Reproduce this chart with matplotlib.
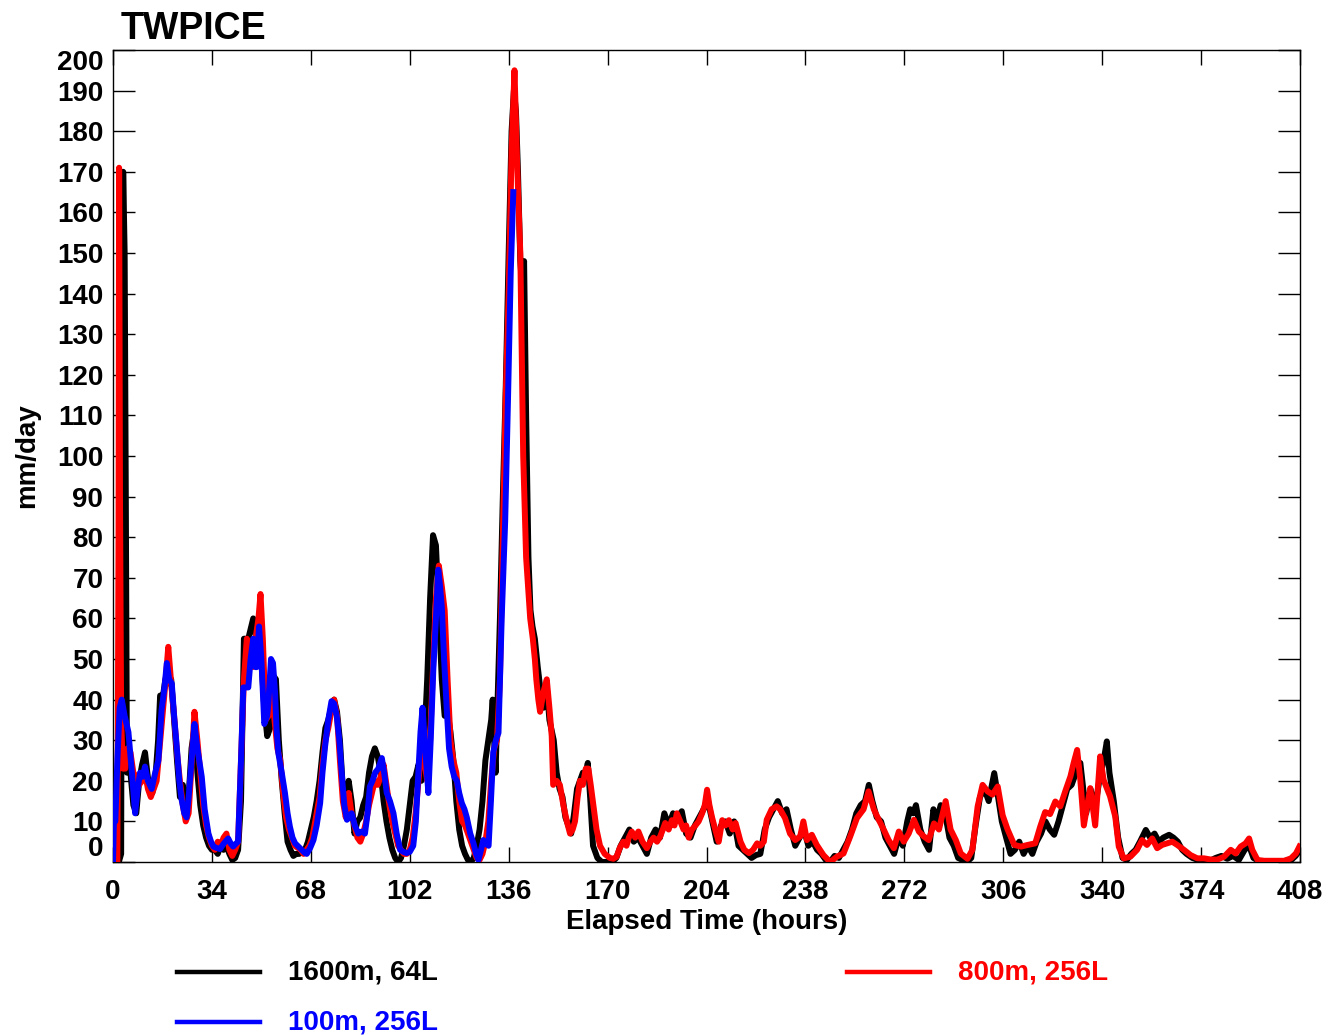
import matplotlib
matplotlib.use("Agg")

import matplotlib.pyplot as plt
import numpy as np
from matplotlib.lines import Line2D

plt.rcParams["font.family"] = ["Liberation Sans", "DejaVu Sans"]
plt.rcParams["font.weight"] = "bold"

# 800m, 256L (red)
t_800 = [0, 1, 1.5, 1.9, 2.1, 2.4, 2.8, 3.4, 4.2, 5, 6, 7, 8, 9, 10, 11, 12, 13, 14, 15,
         16, 17, 18, 19, 20, 21, 22, 23, 24, 25, 26, 27, 28, 29, 30, 31, 32, 33, 34, 35,
         36, 37, 38, 39, 40, 41, 42, 43, 44, 45, 46, 47, 48, 49, 50, 50.7, 51.5, 52.5, 53.5, 54.5,
         55.5, 56.5, 57.5, 58.5, 59.5, 60.5, 61.5, 62.5, 63.5, 64.5, 65.5, 66.5, 67.5, 68.5, 69.5,
         71, 72, 73, 74, 75, 76, 77, 78, 79, 80, 81, 82, 83, 84, 85, 86, 87, 88, 89,
         90, 91, 92, 93, 94, 95, 96, 97, 98, 99, 100, 101, 102, 103, 104, 105, 106, 107, 108, 109,
         110, 111, 112, 113, 114, 115, 116, 117, 118, 119, 120, 121, 122, 123, 124, 125, 126, 127, 128, 129,
         130, 131, 132, 133, 134, 135, 136, 137, 138, 139, 140, 141, 142, 143.4, 144.3, 145, 145.5, 146.2, 146.8, 148,
         149.1, 150, 150.8, 151.3, 152.5, 153.6, 154.8, 156, 157.1, 158, 158.8, 159.7, 160.5, 161.5, 162.5, 163.4, 164.2, 165.1, 166.2, 167.4,
         169, 170.8, 172, 173.1, 174.2, 175.4, 176.5, 177.3, 178.3, 179.5, 180.6, 182, 183.5, 184.7, 185.8, 187, 188.1, 189, 189.8, 191,
         192.1, 193, 193.8, 195, 196.1, 197, 197.9, 199, 200.2, 201.3, 202.5, 203.4, 204.2, 205, 205.9, 207, 208.2, 209.4, 210.5, 211.7,
         213, 214, 215.7, 217, 218.6, 220, 221.4, 222.5, 223.7, 224.7, 226.4, 228.1, 229.3, 231, 232.7, 234.5, 236.2, 237.3, 238.5, 240.2,
         241.9, 244.2, 246.5, 248.8, 251.1, 253.4, 255.7, 258, 259.7, 261.5, 263.2, 264.9, 266.6, 268.4, 270.1, 271.8, 273.5, 275.3, 277, 278.7,
         280.4, 282.2, 283.9, 286.2, 287.9, 289.7, 291.4, 293.7, 295.4, 297.2, 298.9, 300.6, 302.3, 304.1, 305.8, 307.5, 309.8, 312.1, 314.4, 317,
         318.7, 320.4, 322.1, 323.9, 325.6, 327.3, 329.1, 330.2, 331.4, 332.5, 333.7, 335.9, 337.6, 339.3, 340.5, 342.7, 344.5, 345.7, 347.4, 349.7,
         352, 353.7, 355.4, 357.2, 358.9, 360.6, 362.4, 364.1, 365.8, 368.1, 370.4, 372.7, 375, 377.4, 379.6, 381.9, 384.2, 385.9, 387.6, 389.3,
         390.5, 391.6, 393.4, 395.7, 399.1, 402.6, 404.9, 406.6, 407.8]
v_800 = [0, 0, 0, 80, 171, 90, 35, 23, 23, 28, 27, 22, 21, 19, 20, 22, 18, 16, 18, 20,
         28, 36, 44, 53, 44, 36, 27, 20, 14, 10, 12, 24, 37, 30, 22, 14, 9, 6, 4, 3,
         5, 4, 6, 7, 3, 1.5, 3, 5, 25, 45, 55, 53, 48, 55, 60, 66, 55, 35, 36, 45,
         35, 28, 25, 17, 11, 8, 6, 4, 3.5, 3, 2, 3, 4, 6, 10,
         16, 24, 30, 33, 37, 40, 36, 25, 15, 11, 17, 12, 9, 6, 5, 7, 10, 14, 17,
         20, 19, 21, 24, 19, 14, 10, 7, 4, 3, 2, 2, 3, 6, 12, 20, 28, 25, 20, 30,
         48, 65, 73, 68, 62, 45, 30, 25, 22, 15, 10, 9, 7, 5, 3, 1, 0.5, 2, 5, 10,
         20, 28, 30, 45, 80, 115, 140, 175, 195, 170, 150, 100, 75, 60, 55, 50, 45, 40, 37, 42,
         45, 38, 31, 19, 20, 19, 14, 10, 7, 8, 10, 16, 20, 19, 23, 23, 19, 14, 8, 4,
         2, 1, 0.8, 1.3, 3.5, 5, 4, 6, 7.5, 6, 7.5, 5, 3.4, 5, 6, 5, 6.3, 8, 9.6, 8,
         10.3, 9, 12, 10, 8, 9, 6, 8, 9, 10, 12, 14, 17.8, 14, 11, 8, 5, 10.3, 9, 10.3,
         8, 9.6, 5, 3, 2.2, 3, 4.6, 4, 5, 10.4, 13, 13.7, 13, 10.8, 7, 5.4, 6.3, 10, 5.4, 6.7,
         4.2, 1.7, 0, 1.3, 2.1, 6.3, 10.8, 13, 17.4, 13, 10.4, 8, 5.4, 3.4, 7.5, 5, 7, 10.4, 7.5, 6.3,
         5.4, 9.5, 8, 15, 8, 5.4, 2.1, 0.8, 3, 13.7, 19, 17.4, 16.6, 18.6, 11.5, 8, 4.2, 3.8, 4.2, 4.6,
         8.7, 12.3, 11.8, 14.9, 13.7, 17.4, 21.1, 24.4, 27.6, 20.2, 9, 18.2, 9, 26, 20.2, 16.2, 11.2, 3.8, 0.9, 1.3,
         3, 5.4, 4.2, 5.8, 3.4, 4.2, 4.6, 5, 4.2, 3, 1.7, 0.9, 0.9, 0.6, 0.6, 1.3, 3, 2.1, 3.8, 4.6,
         5.8, 3, 0.5, 0.3, 0.3, 0.3, 0.9, 2.1, 3.8]

# 1600m, 64L (black)
t_1600 = [0, 2, 2.8, 3.2, 3.5, 4.0, 4.4, 4.8, 5.5, 6, 7, 8, 9, 10, 11, 11.8, 12.5, 13.5, 14.5, 15.5,
          16.2, 17, 18, 19, 20, 21, 22, 23, 24, 25, 26, 27, 28, 29, 30, 31, 32, 33, 34, 35,
          36, 37, 38, 39, 40, 41, 42, 43, 44, 45, 46.5, 47.5, 48.2, 49, 50, 51, 52, 53, 54, 55,
          56, 57, 58, 59, 60, 61, 62, 63, 64, 65, 66, 67, 68, 69, 70, 71, 72, 73, 74, 75,
          76, 77, 78, 79, 80, 81, 82, 83, 84, 85, 86, 87, 88, 89, 90, 91, 92, 93, 94, 95,
          96, 97, 98, 99, 100, 101, 102, 103, 104, 105, 106, 107, 108, 109, 110, 111, 112, 113, 114, 115,
          116, 117, 118, 119, 120, 121, 122, 123, 124, 125, 126, 127, 128, 129, 130, 130.5, 131, 131.5, 132, 133,
          134, 135, 136, 137, 137.8, 138.5, 139.2, 140, 140.8, 141.3, 142, 142.8, 143.5, 144.2, 145, 146, 147, 148, 149, 150,
          151.5, 152.5, 153.5, 154.5, 155.5, 156.5, 157.5, 158.5, 159.5, 160.5, 161.5, 162.5, 163.2, 164, 165, 166.5, 168, 170, 171.5, 173,
          174.5, 176, 177.5, 179, 180.5, 182, 183.5, 185, 186.5, 188, 189.5, 191, 192.5, 194, 195.5, 197, 198.5, 200, 201.5, 203,
          204.5, 206, 207.5, 209, 210.5, 212, 213.5, 215, 216.5, 218, 219.5, 221, 222.5, 224, 225.5, 227, 228.5, 230, 231.5, 233,
          234.5, 236, 237.5, 239, 240.5, 242, 243.5, 245, 246.5, 248, 249.5, 251, 252.5, 254, 255.5, 257, 258.5, 259.8, 261, 262.5,
          264, 265.5, 267, 268.5, 270, 271.5, 273, 274, 275, 276, 277.5, 279, 280.5, 282, 283, 284.5, 286, 287.5, 289, 290.5,
          292, 293.5, 295, 296.5, 298, 299.5, 301, 302.9, 304, 305.5, 307, 308.5, 310, 311.5, 313, 314.5, 316, 317.5, 319, 320.5,
          322, 323.5, 325, 326.5, 328, 329.5, 331, 332.5, 333.5, 334.5, 336, 337.5, 339, 340.5, 341.6, 342.5, 344, 345.5, 347, 348.5,
          350, 351.5, 353, 355, 356.5, 358, 359.5, 361, 363, 364.5, 366, 367.5, 369, 371, 373, 375, 377, 379, 381, 383,
          385, 387, 389, 390.5, 392, 394, 398, 402, 405, 406.5, 408]
v_1600 = [0, 0, 2, 120, 170, 150, 90, 22, 23, 22, 14, 12, 20, 24, 27, 22, 18, 17, 20, 30,
          41, 40, 45, 44, 45, 35, 25, 16, 19, 13, 16, 28, 33, 22, 14, 9, 6, 4, 3, 3,
          2, 4, 3, 4, 2, 0.5, 1, 3, 15, 55, 55, 58, 60, 56, 58, 50, 38, 31, 33, 46,
          45, 30, 20, 12, 5, 3, 1.5, 2, 2, 2.5, 3, 5, 8, 11, 15, 20, 27, 33, 35, 38,
          40, 37, 30, 18, 14, 20, 15, 7, 10, 11, 14, 16, 22, 26, 28, 26, 22, 15, 10, 6,
          3, 1, 0, 1, 4, 8, 14, 20, 21, 24, 20, 30, 45, 65, 80.5, 78, 62, 45, 36, 37,
          32, 25, 15, 8, 4, 2, 0.5, 0, 1, 4, 8, 15, 25, 30, 35, 40, 30, 22, 35, 60,
          90, 117, 150, 180, 190, 185, 170, 148, 140, 148, 110, 75, 62, 58, 55, 48, 42, 38, 44, 35,
          30, 22, 18, 16, 11, 9, 7, 12, 18, 20, 22, 22, 24.4, 16, 4, 1, 0, 0, 0, 1,
          4, 6, 8, 5, 6, 4, 2, 6, 8, 6, 12, 9, 12, 11, 12.5, 7, 6, 9, 11, 13,
          15, 10, 5, 9, 10, 7, 10, 4, 3, 2, 1, 1.7, 2, 8, 11, 13, 15, 12, 13, 8,
          4, 6, 8, 4, 5, 3, 2, 0.5, 0, 1.5, 1, 3, 5, 8, 12, 14, 15, 19, 15, 11,
          10, 6, 4, 2, 6, 4, 10, 13, 12, 14, 8, 5, 3, 13, 10, 14, 12, 6, 4, 1,
          0.5, 0, 1, 9, 16, 18, 15, 21.9, 17, 10, 6, 2, 3, 5, 2, 4, 2, 5, 7, 10,
          8, 6.7, 10, 14, 18, 19, 22, 24.4, 18, 12, 18, 13, 20, 25, 29.7, 22, 15, 6, 1, 0.5,
          2, 3, 5, 7.9, 6, 7, 5, 6, 6.7, 6, 5, 3, 2, 1, 0.5, 0.5, 0.3, 1, 1.5, 0.8,
          1.5, 0.5, 3, 4, 1, 0.2, 0.2, 0.2, 0.5, 1.5, 3]

# 100m, 256L (blue)
t_100 = [0, 0.3, 0.8, 1.5, 2.3, 3, 4, 5.3, 6.5, 7.6, 8.5, 9.3, 10.2, 11, 12, 13.3, 14.5, 15.6, 16.7, 17.7,
         18.5, 19.3, 20.2, 21, 21.9, 22.8, 23.6, 24.5, 25.3, 26, 27, 28, 29, 30.5, 31.5, 32.8, 33.7, 34.5, 35.5, 36.8,
         38, 39.6, 40.5, 41.3, 42.2, 43, 44, 44.8, 45.7, 46.5, 47.3, 48.2, 49, 49.4, 50.2, 51, 52, 53, 53.4, 54.3,
         55, 55.7, 56.2, 56.8, 58, 59.1, 60, 60.8, 61.7, 62.6, 64.3, 66, 66.6, 67.8, 68.9, 70, 71.2, 72, 72.9, 74,
         75.1, 76, 76.9, 77.8, 78.6, 79.5, 80.4, 81.2, 82, 83.1, 84.3, 85.5, 86.6, 87.5, 88.3, 89.2, 90.1, 91.2, 92.4, 93.2,
         94.1, 95.2, 96.4, 97.5, 98.7, 99.8, 100.9, 102, 103.2, 104.1, 105, 105.7, 106.4, 107.4, 108.4, 109.2, 110.1, 111, 111.8, 112.4,
         113, 113.8, 114.7, 115.5, 116.4, 117.3, 118.2, 119, 119.9, 120.8, 121.6, 122.8, 123.9, 124.8, 125.6, 126.5, 127.3, 128.2, 129.1, 129.9,
         130.7, 131.6, 132.5, 133.6, 134.8, 135.8, 136.7, 137.6]
v_100 = [0, 10, 10, 25, 38, 40, 36, 32, 22, 12, 18, 22, 21, 23.5, 20, 18, 22, 25, 37.5, 43,
         49, 45, 44, 36, 28.5, 20, 15.3, 12, 11, 16, 25, 34, 28, 21, 13, 7, 5, 3.8, 3.5, 3.2,
         4.5, 5.8, 4.5, 3.8, 4.5, 5, 25, 43, 43, 43, 50, 55, 48, 48, 58, 50, 34, 36, 39, 50,
         49, 41.7, 33, 27, 22, 17, 12, 8.7, 6, 4.6, 3.4, 2.2, 2, 3.5, 5.4, 9, 14.5, 22, 28.5, 35,
         39.6, 39, 36, 30, 22, 14, 10.4, 11, 12, 9, 7, 7.5, 7, 12, 18.6, 20, 22, 23, 25.6, 22,
         17, 15, 12, 7, 3, 2.5, 2.2, 2.5, 4, 10, 22.7, 32, 38, 27, 17, 30, 47.4, 60, 72, 68,
         63, 50, 38, 28, 23.5, 21, 20, 17, 14.5, 13, 11, 7, 4.6, 2, 0.5, 3, 5.4, 4.5, 4, 15,
         27, 30, 31.8, 60, 84, 115, 145, 165]

x_ticks = [0, 34, 68, 102, 136, 170, 204, 238, 272, 306, 340, 374, 408]
y_ticks = list(range(0, 201, 10))

fig = plt.figure(figsize=(13.29, 10.35), dpi=100)
ax = fig.add_axes([113 / 1329, 1 - 862 / 1035, (1300 - 113) / 1329, (862 - 50) / 1035])

lw = 4.3
ax.plot(t_1600, v_1600, color="black", linewidth=lw, zorder=2)
ax.plot(t_800, v_800, color="red", linewidth=lw, zorder=3)
ax.plot(t_100, v_100, color="blue", linewidth=lw, zorder=4)

ax.set_xlim(0, 408)
ax.set_ylim(0, 200)
ax.set_xticks(x_ticks)
ax.set_yticks(y_ticks)
ax.tick_params(axis="x", direction="in", length=11, width=1, top=True, labelsize=20, pad=12)
ax.tick_params(axis="y", direction="in", length=16, width=1, right=True, labelsize=20, pad=7)
for sp in ax.spines.values():
    sp.set_linewidth(1)

ylabels = ax.get_yticklabels()
ylabels[0].set_va("bottom")
ylabels[-1].set_va("top")

ax.set_xlabel("Elapsed Time (hours)", fontsize=20, fontweight="bold", labelpad=3)
ax.set_ylabel("mm/day", fontsize=20, fontweight="bold", labelpad=12)

fig.text(121 / 1329, 1 - 39 / 1035, "TWPICE", fontsize=27, fontweight="bold", ha="left", va="baseline")

# legend drawn manually below the plot
legend_items = [
    ("1600m, 64L", "black", 177, 972),
    ("800m, 256L", "red", 847, 972),
    ("100m, 256L", "blue", 177, 1022),
]
for label, col, x0, y0 in legend_items:
    fig.add_artist(Line2D([x0 / 1329, (x0 + 83) / 1329], [1 - y0 / 1035, 1 - y0 / 1035],
                          transform=fig.transFigure, color=col, linewidth=3.2))
    fig.text((x0 + 111) / 1329, 1 - y0 / 1035, label, color=col, fontsize=20,
             fontweight="bold", ha="left", va="center")

fig.savefig("out.png", dpi=100)
